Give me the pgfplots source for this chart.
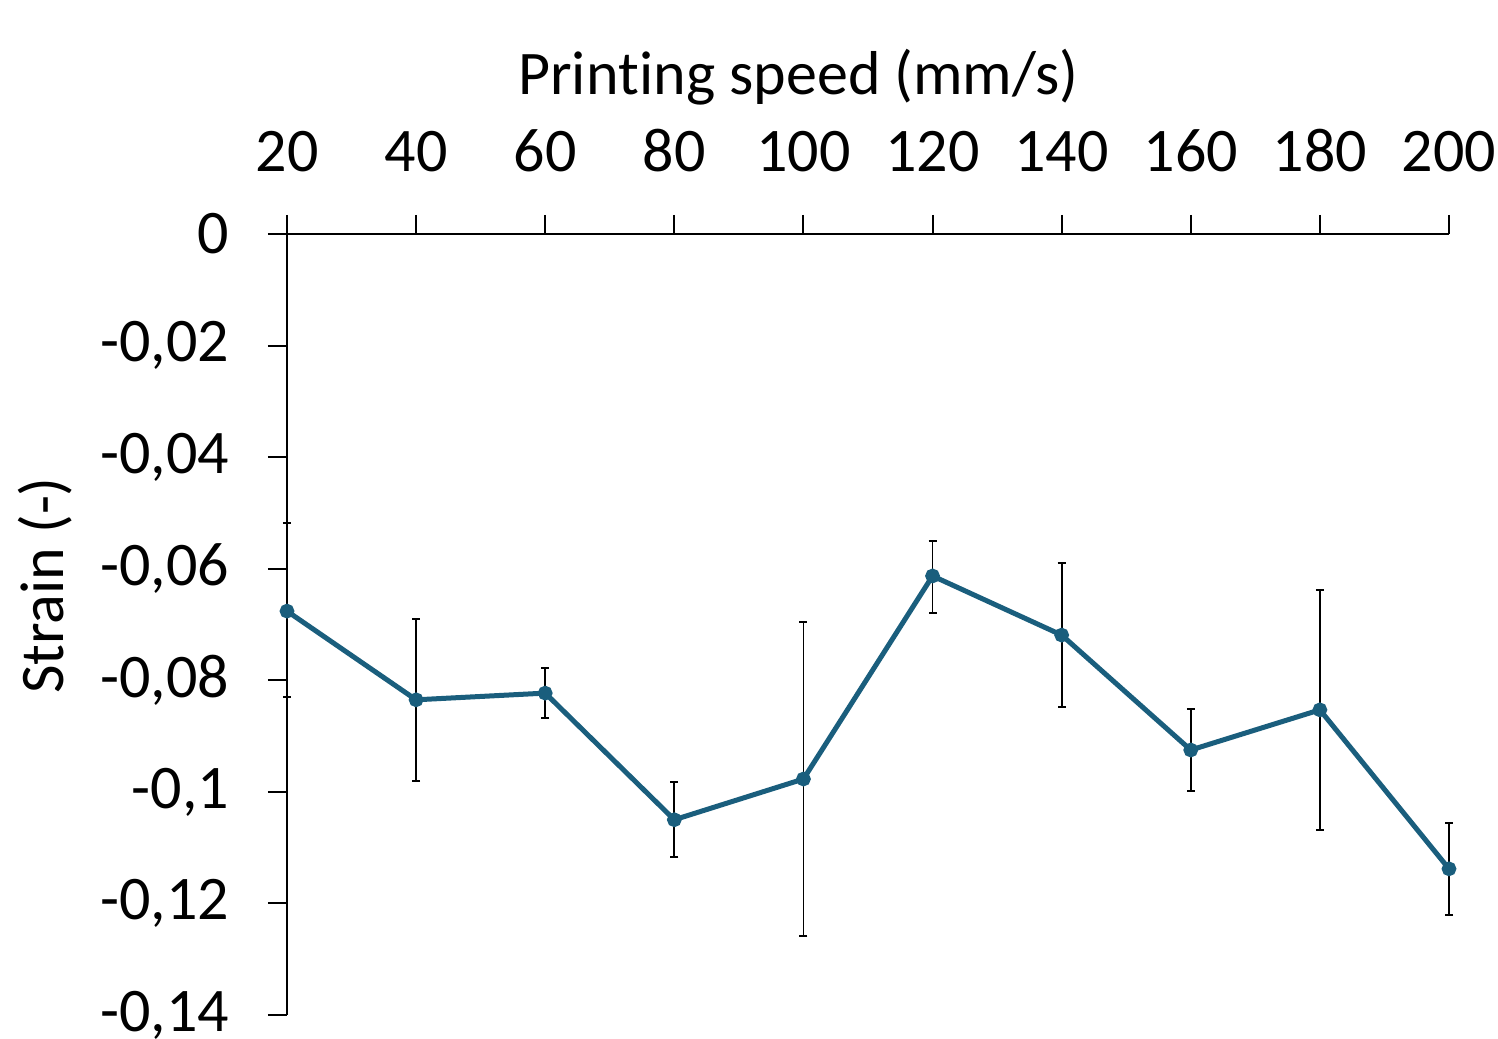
\documentclass[border=0pt]{standalone}
\usepackage{fontspec}
\setmainfont{Carlito}[Ligatures={NoCommon,NoContextual}]
\usepackage{pgfplots}
\pgfplotsset{compat=1.18}
\usepackage{pgfplotstable}
\definecolor{linec}{RGB}{26,94,125}
\pgfplotstableread{
x y ep em
20 -0.0676 0.0158 0.0154
40 -0.0835 0.0145 0.0145
60 -0.0823 0.0045 0.0045
80 -0.1050 0.0068 0.0067
100 -0.0977 0.0281 0.0282
120 -0.0613 0.0063 0.0066
140 -0.0719 0.0129 0.0129
160 -0.0925 0.0073 0.0074
180 -0.0853 0.0215 0.0215
200 -0.1138 0.0082 0.0083
}\datatable
\begin{document}
\begin{tikzpicture}
\useasboundingbox (-143.5pt,-11.5pt) rectangle (605.5pt,507.5pt);
\begin{axis}[
  scale only axis,
  width=581pt, height=390.5pt,
  xmin=20, xmax=200, ymin=-0.14, ymax=0,
  axis x line*=top, axis y line*=left,
  axis line style={line width=1pt, black},
  clip=false,
  xtick={20,40,...,200},
  ytick={-0.14,-0.12,-0.1,-0.08,-0.06,-0.04,-0.02,0},
  yticklabels={{-0,14},{-0,12},{-0,1},{-0,08},{-0,06},{-0,04},{-0,02},0},
  tick align=outside,
  major tick length=9.5pt,
  tick style={line width=1pt, black},
  /pgf/number format/assume math mode=true,
  ticklabel style={font=\fontsize{31}{37}\selectfont},
  xticklabel style={yshift=18pt},
  yticklabel style={xshift=-16pt},
  xlabel={Prin\kern0pt{}ting speed (mm/s)},
  ylabel={Strain (-)},
  label style={font=\fontsize{31}{37}\selectfont},
  xlabel style={at={(rel axis cs:0.44,1)}, anchor=south, yshift=61pt},
  ylabel style={at={(rel axis cs:0,0.55)}, anchor=center, yshift=121pt},
]
\addplot[draw=none, forget plot,
  error bars/.cd, y dir=both, y explicit,
  error bar style={black, line width=0.85pt},
  error mark options={black, line width=0.85pt, mark size=2pt, rotate=90}]
  table[x=x, y=y, y error plus=ep, y error minus=em] {\datatable};
\addplot[color=linec, line width=2.5pt, mark=*, mark size=2.4pt]
  table[x=x, y=y] {\datatable};
\end{axis}
\end{tikzpicture}
\end{document}
